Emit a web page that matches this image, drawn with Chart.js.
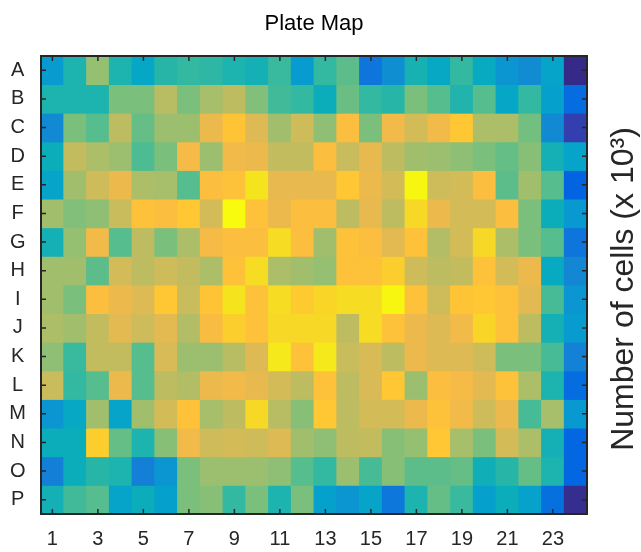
<!DOCTYPE html>
<html lang="en">
<head>
    <meta charset="UTF-8">
    <title>Plate Map</title>
    <script src="https://cdn.jsdelivr.net/npm/chart.js"></script>
    <style>
        body { margin: 0; background: #fff; }
        #plate { display: block; }
    </style>
</head>
<body>
    <canvas id="plate" width="641" height="552"></canvas>
    <script>
        // plate layout
        const rowLabels = ['A','B','C','D','E','F','G','H','I','J','K','L','M','N','O','P'];
        const colLabels = ['1','2','3','4','5','6','7','8','9','10','11','12','13','14','15','16','17','18','19','20','21','22','23','24'];

        // number of cells per well (x 10^3)
        const rowA = [3.3,4.6,6.4,4.6,3.8,4.8,5.0,4.9,4.6,4.4,5.1,3.3,5.0,5.6,1.9,2.9,4.5,3.9,5.0,4.0,3.1,2.8,3.7,0.0];
        const rowB = [4.6,4.6,4.6,6.0,6.0,7.0,6.0,6.7,7.1,6.1,5.2,5.0,4.2,5.8,5.0,4.8,6.0,5.5,4.7,5.5,3.8,5.0,3.5,1.6];
        const rowC = [2.7,6.0,5.5,7.1,5.7,6.5,6.5,8.0,8.6,7.7,6.6,7.4,6.3,8.4,6.0,8.1,7.5,8.1,8.7,6.8,6.8,5.9,2.7,0.5];
        const rowD = [4.2,7.2,6.8,6.5,5.4,6.0,8.2,6.5,8.1,8.0,7.2,7.2,8.4,7.3,7.9,7.1,6.6,6.5,6.3,6.0,5.7,6.2,4.4,3.7];
        const rowE = [3.7,6.6,7.4,8.0,6.8,6.7,5.5,8.4,8.5,9.5,7.9,7.9,7.9,8.7,8.0,7.5,9.9,7.4,7.5,8.4,5.6,6.6,5.5,1.3];
        const rowF = [6.6,6.1,6.3,7.3,8.5,8.4,8.7,7.5,10.0,8.5,8.0,8.4,8.4,7.1,7.9,7.1,9.2,8.0,7.5,7.5,8.4,6.0,4.2,3.2];
        const rowG = [4.4,6.4,8.1,5.5,7.1,6.0,6.8,8.2,8.4,8.4,9.3,8.4,6.6,8.5,8.4,7.8,8.5,6.9,7.5,9.2,6.8,6.0,5.5,1.9];
        const rowH = [6.6,6.6,5.6,7.5,7.1,7.4,7.2,6.8,8.5,9.3,6.8,6.6,6.4,8.5,8.5,8.9,7.4,7.1,7.2,8.5,7.5,8.0,4.0,2.6];
        const rowI = [6.6,6.0,8.4,8.0,7.7,8.7,7.3,8.6,9.5,8.5,9.3,8.8,9.1,9.3,9.3,9.9,8.5,7.4,8.6,8.7,8.5,7.8,5.3,3.1];
        const rowJ = [6.8,6.6,7.2,7.8,7.4,7.8,6.9,8.3,8.9,8.5,9.2,9.2,9.2,7.1,9.3,8.5,8.0,7.7,8.1,9.1,8.5,7.1,4.4,3.3];
        const rowK = [6.3,5.1,7.2,7.2,5.5,7.6,6.5,6.5,7.0,7.7,9.6,8.5,9.6,7.3,7.6,7.1,8.0,7.7,7.7,7.4,6.0,6.0,5.3,2.4];
        const rowL = [7.3,5.0,5.5,8.0,5.5,7.1,6.9,8.0,8.1,7.9,7.5,7.1,8.5,7.1,7.6,8.7,6.5,8.4,8.2,7.8,8.5,6.8,4.6,1.6];
        const rowM = [3.1,3.9,6.6,3.7,6.6,7.5,8.5,6.7,7.1,9.2,7.0,6.2,8.7,7.1,7.5,7.5,8.0,8.5,8.1,7.4,8.0,5.3,6.7,3.2];
        const rowN = [4.2,4.2,8.9,5.7,4.6,6.2,8.1,7.4,7.5,7.4,7.7,6.6,6.3,7.1,7.2,6.2,6.4,8.7,6.7,6.0,7.5,6.8,4.4,1.4];
        const rowO = [2.3,4.2,4.8,4.6,2.3,3.1,6.0,6.5,6.5,6.5,6.3,5.5,5.0,6.5,5.3,6.2,5.6,5.6,5.7,4.3,4.8,5.7,4.6,1.4];
        const rowP = [4.4,5.2,5.5,3.7,4.2,3.5,6.0,6.2,5.0,6.0,4.6,6.0,3.5,3.1,3.7,2.0,4.6,5.7,5.1,3.5,4.2,3.6,1.7,0.1];
        const plateRows = [rowA,rowB,rowC,rowD,rowE,rowF,rowG,rowH,rowI,rowJ,rowK,rowL,rowM,rowN,rowO,rowP];

        const colorMin = 0;
        const colorMax = 10;

        // parula, sampled
        const parula = [
            [0.2081,0.1663,0.5292],[0.1959,0.2645,0.7279],[0.0117,0.3875,0.8820],[0.0165,0.4266,0.8786],
            [0.0498,0.4586,0.8641],[0.0723,0.4887,0.8467],[0.0793,0.5200,0.8312],[0.0641,0.5570,0.8240],
            [0.0343,0.5966,0.8199],[0.0239,0.6287,0.8038],[0.0228,0.6535,0.7768],[0.0384,0.6743,0.7436],
            [0.0843,0.6928,0.7062],[0.1453,0.7098,0.6646],[0.2178,0.7250,0.6193],[0.3022,0.7376,0.5712],
            [0.3953,0.7459,0.5244],[0.4871,0.7491,0.4840],[0.5709,0.7485,0.4494],[0.6473,0.7456,0.4188],
            [0.7184,0.7411,0.3905],[0.7858,0.7356,0.3633],[0.8507,0.7299,0.3360],[0.9139,0.7258,0.3063],
            [0.9739,0.7314,0.2666],[0.9990,0.7653,0.2164],[0.9880,0.8066,0.1794],[0.9697,0.8481,0.1475],
            [0.9589,0.8949,0.1132],[0.9661,0.9514,0.0755],[0.9763,0.9831,0.0538]
        ];
        // sample positions (index / 63)
        const parulaPos = [0,4,8,10,12,14,16,18,20,22,24,26,28,30,32,34,36,38,40,42,44,46,48,50,52,54,56,58,60,62,63].map(i => i / 63);

        function cellColor(v) {
            let t = (v - colorMin) / (colorMax - colorMin);
            t = Math.max(0, Math.min(1, t));
            let k = 0;
            while (k < parulaPos.length - 2 && t > parulaPos[k + 1]) k++;
            const f = (t - parulaPos[k]) / (parulaPos[k + 1] - parulaPos[k]);
            const c = parula[k].map((a, j) => Math.round(255 * (a + (parula[k + 1][j] - a) * f)));
            return `rgb(${c[0]}, ${c[1]}, ${c[2]})`;
        }

        // one dataset per plate row, each well is a floating bar one row high
        const datasets = plateRows.map((vals, r) => ({
            label: rowLabels[r],
            data: vals.map(() => [r + 0.5, r + 1.5]),
            backgroundColor: vals.map(cellColor),
            borderWidth: 0,
            inflateAmount: 0.4,
            barPercentage: 1,
            categoryPercentage: 1,
            grouped: false
        }));

        const axisColor = '#262626';

        // MATLAB-like box with inward ticks + rotated label on the right
        const plateFrame = {
            id: 'plateFrame',
            afterDatasetsDraw(chart) {
                const { ctx, chartArea: a, scales } = chart;
                ctx.save();
                ctx.strokeStyle = axisColor;
                ctx.lineWidth = 1.5;
                ctx.beginPath();
                colLabels.forEach((c, i) => {
                    if (i % 2 !== 0) return;
                    const x = scales.x.getPixelForValue(i);
                    ctx.moveTo(x, a.bottom); ctx.lineTo(x, a.bottom - 5);
                    ctx.moveTo(x, a.top); ctx.lineTo(x, a.top + 5);
                });
                rowLabels.forEach((r, i) => {
                    const y = scales.y.getPixelForValue(i + 1);
                    ctx.moveTo(a.left, y); ctx.lineTo(a.left + 5, y);
                    ctx.moveTo(a.right, y); ctx.lineTo(a.right - 5, y);
                });
                ctx.stroke();
                ctx.lineWidth = 2;
                ctx.strokeRect(a.left, a.top, a.right - a.left, a.bottom - a.top);
                ctx.restore();
            },
            afterDraw(chart) {
                const { ctx } = chart;
                ctx.save();
                ctx.translate(624, 289);
                ctx.rotate(-Math.PI / 2);
                ctx.fillStyle = axisColor;
                ctx.font = '32px "Liberation Sans", Arial, sans-serif';
                ctx.textAlign = 'center';
                ctx.textBaseline = 'middle';
                ctx.fillText('Number of cells (x 10³)', 0, 0);
                ctx.restore();
            }
        };

        Chart.defaults.font.family = '"Liberation Sans", Arial, sans-serif';
        Chart.defaults.color = axisColor;

        new Chart(document.getElementById('plate'), {
            type: 'bar',
            data: { labels: colLabels, datasets: datasets },
            options: {
                responsive: false,
                animation: false,
                layout: { padding: { left: 0, right: 54, top: 0, bottom: 0 } },
                plugins: {
                    legend: { display: false },
                    tooltip: { enabled: false },
                    title: {
                        display: true,
                        text: 'Plate Map',
                        color: '#000',
                        fullSize: false,
                        font: { size: 22, weight: 'normal' },
                        padding: { top: 11, bottom: 18.6 }
                    }
                },
                scales: {
                    x: {
                        type: 'category',
                        grid: { display: false, drawTicks: false },
                        border: { display: false },
                        ticks: {
                            autoSkip: false,
                            maxRotation: 0,
                            minRotation: 0,
                            padding: 13,
                            font: { size: 20 },
                            callback: (v, i) => (i % 2 === 0 ? colLabels[i] : null)
                        },
                        afterFit: (scale) => { scale.height = 38; }
                    },
                    y: {
                        type: 'linear',
                        reverse: true,
                        min: 0.5,
                        max: 16.5,
                        grid: { display: false, drawTicks: false },
                        border: { display: false },
                        afterBuildTicks: (scale) => {
                            scale.ticks = rowLabels.map((r, i) => ({ value: i + 1 }));
                        },
                        ticks: {
                            padding: 15,
                            crossAlign: 'center',
                            font: { size: 20 },
                            callback: (v) => rowLabels[Math.round(v) - 1]
                        },
                        afterFit: (scale) => { scale.width = 41; }
                    }
                }
            },
            plugins: [plateFrame]
        });
    </script>
</body>
</html>
